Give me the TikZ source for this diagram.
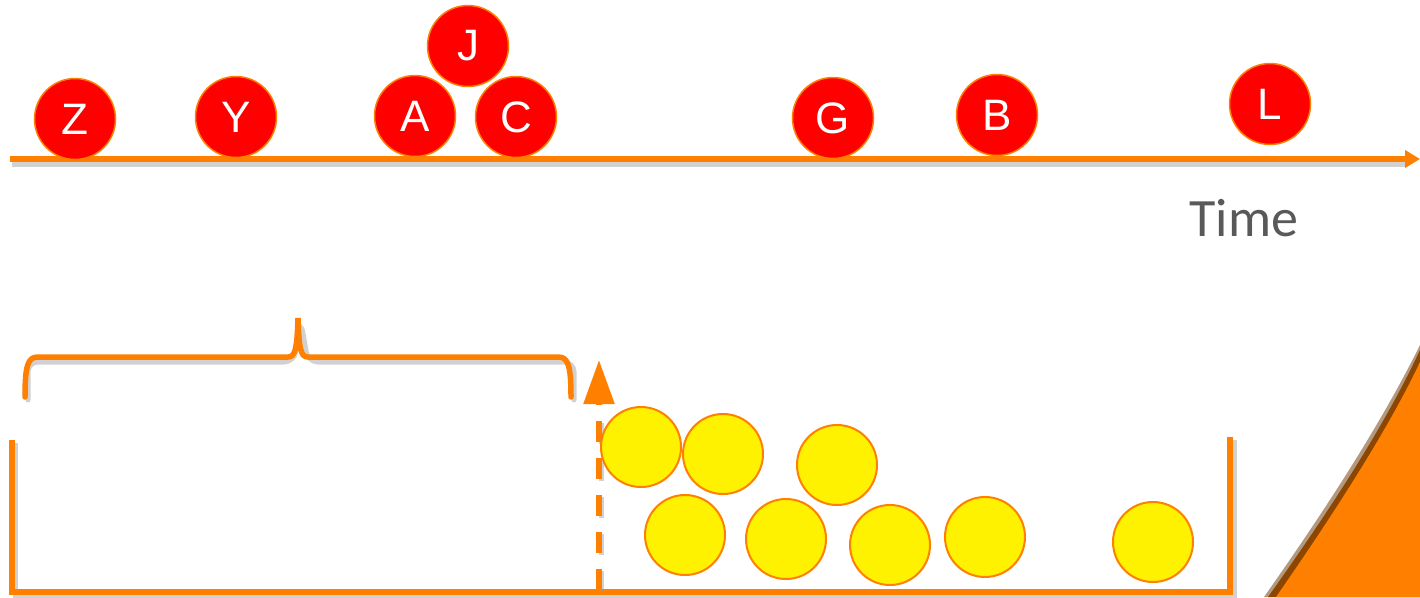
\documentclass[tikz,border=0pt]{standalone}
\usepackage{fontspec}
\setmainfont{Liberation Sans}
\newfontfamily\labelfont{Carlito}
\usetikzlibrary{arrows.meta}
\definecolor{tangerine}{HTML}{FF8000}
\definecolor{shade}{HTML}{9A9A9A}
\definecolor{caption}{HTML}{595959}
\begin{document}
\begin{tikzpicture}[x=1pt,y=-1pt,
  event/.style={circle,fill=red,draw=tangerine,line width=1.5pt,minimum size=81pt,inner sep=0pt,
    text=white,font=\fontsize{44}{44}\selectfont},
  item/.style={circle,fill=yellow,draw=tangerine,line width=2pt,minimum size=80pt,inner sep=0pt},
  orangeline/.style={draw=tangerine,line width=5.5pt},
  shadowline/.style={draw=shade,line width=5pt,opacity=0.45}]
\useasboundingbox (0,0) rectangle (1420,597);

% timeline with shadow
\coordinate (t0) at (10,159);
\coordinate (t1) at (1420,159);
\draw[shadowline] (12,164) -- (1405,164);
\draw[orangeline,-{Triangle[length=15pt,width=17pt]}] (t0) -- (t1);

% events on the timeline
\node[event] (Z) at (75,119) {\raisebox{-3pt}{Z}};
\node[event] (Y) at (236,117) {\raisebox{-3pt}{Y}};
\node[event] (A) at (415,116) {\raisebox{-3pt}{A}};
\node[event] (J) at (468,46) {\raisebox{-3pt}{J}};
\node[event] (C) at (516,117) {\raisebox{-3pt}{C}};
\node[event] (G) at (833,118) {\raisebox{-3pt}{G}};
\node[event] (B) at (997,115) {\raisebox{-3pt}{B}};
\node[event] (L) at (1270,104) {\raisebox{-3pt}{L}};

\node[text=caption,font=\labelfont\fontsize{54}{54}\selectfont] (time) at (1244,218) {Time};

% brace over the window
\draw[shadowline,line cap=round,rounded corners=10pt] (28,400) -- (28,362) -- (294,362) -- (301,322) -- (308,362) -- (574,362) -- (574,400);
\draw[orangeline,line cap=round] (25,397) .. controls (25,365) and (28,357) .. (38,357)
  -- (288,357) .. controls (295,357) and (297,350) .. (298,318)
  .. controls (299,350) and (301,357) .. (308,357)
  -- (558,357) .. controls (568,357) and (571,365) .. (571,397);

% bucket
\coordinate (b0) at (12,440);
\coordinate (b1) at (12,592);
\coordinate (b2) at (1230,592);
\coordinate (b3) at (1230,437);
\draw[shadowline] (15,443) -- (15,596) -- (1234,596) -- (1234,440);
\draw[orangeline] (b0) -- (b1) -- (b2) -- (b3);

% dashed cut-off arrow
\coordinate (a0) at (599,590);
\coordinate (a1) at (599,360);
\draw[shadowline,dash pattern=on 21pt off 16pt] (601,592) -- (601,410);
\draw[orangeline,dash pattern=on 21pt off 16pt,-{Triangle[length=44pt,width=30pt]}] (a0) -- (a1);

% items in the bucket
\node[item] (i1) at (641,447) {};
\node[item] (i2) at (723,454) {};
\node[item] (i3) at (837,465) {};
\node[item] (i4) at (685,535) {};
\node[item] (i5) at (786,539) {};
\node[item] (i6) at (890,545) {};
\node[item] (i7) at (985,537) {};
\node[item] (i8) at (1153,542) {};

% orange wedge in the corner, with a soft dark rim
\fill[black!60!tangerine,opacity=0.5] (1264,597) .. controls (1318,520) and (1378,430) .. (1420,345) -- (1420,597) -- cycle;
\fill[black!45!tangerine] (1268,597) .. controls (1322,521) and (1382,432) .. (1420,350) -- (1420,597) -- cycle;
\fill[tangerine] (1276,597) .. controls (1328,522) and (1386,434) .. (1420,362) -- (1420,597) -- cycle;
\end{tikzpicture}
\end{document}
